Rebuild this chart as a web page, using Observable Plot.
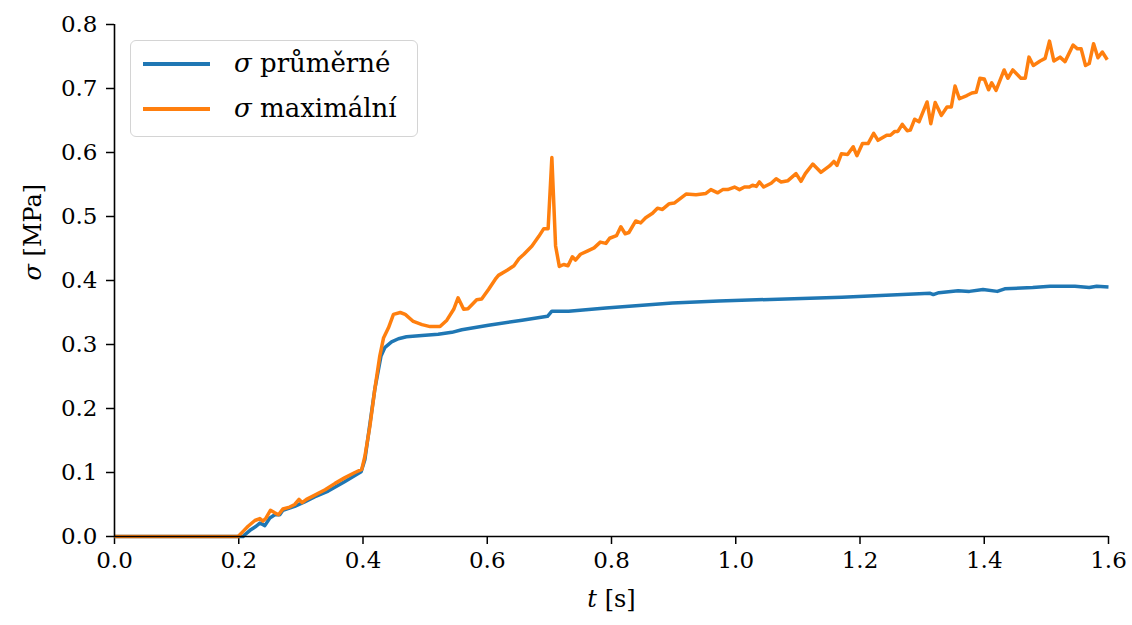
<!DOCTYPE html>
<html>
<head>
<meta charset="utf-8">
<script src="https://cdn.jsdelivr.net/npm/d3@7"></script>
<script src="https://cdn.jsdelivr.net/npm/@observablehq/plot@0.6"></script>
<style>
  html, body { margin: 0; padding: 0; background: #fff; }
  #wrap { position: relative; width: 1132px; height: 625px; }
  #legend {
    position: absolute; left: 130px; top: 40px; width: 286px; height: 95px;
    border: 1.5px solid #d4d4d4; border-radius: 6px; background: rgba(255,255,255,0.85);
    font-family: "DejaVu Serif", serif; font-size: 26px; color: #000;
  }
  .lrow { position: absolute; left: 0; height: 0; }
  .lline { position: absolute; left: 12px; width: 67px; height: 3.4px; top: -1.7px; }
  .ltext { position: absolute; left: 103px; top: -18px; white-space: nowrap; line-height: 34px; }
</style>
</head>
<body>
<div id="wrap"></div>
<script>
// Series names and colours
const seriesNames = ["σ průměrné", "σ maximální"];
const seriesColors = ["#1f77b4", "#ff7f0e"];

// σ průměrné (average stress), t [s] and σ [MPa]
const avgT = [0, 0.207, 0.210, 0.220, 0.228, 0.234, 0.242, 0.250, 0.258, 0.266, 0.271, 0.290, 0.306, 0.322, 0.344, 0.371, 0.397, 0.403, 0.419, 0.429, 0.435, 0.446, 0.457, 0.470, 0.495, 0.521, 0.543, 0.559, 0.602, 0.656, 0.697, 0.704, 0.731, 0.791, 0.898, 0.973, 1.171, 1.313, 1.318, 1.327, 1.358, 1.376, 1.398, 1.421, 1.433, 1.478, 1.506, 1.546, 1.569, 1.581, 1.600];
const avgV = [0, 0, 0.003, 0.011, 0.016, 0.021, 0.017, 0.029, 0.034, 0.034, 0.041, 0.047, 0.054, 0.062, 0.071, 0.086, 0.101, 0.120, 0.230, 0.282, 0.295, 0.304, 0.309, 0.312, 0.314, 0.316, 0.319, 0.323, 0.330, 0.338, 0.344, 0.352, 0.352, 0.357, 0.365, 0.368, 0.374, 0.380, 0.378, 0.381, 0.384, 0.383, 0.386, 0.383, 0.387, 0.389, 0.391, 0.391, 0.389, 0.391, 0.390];

// σ maximální (maximum stress)
const maxT = [0, 0.199, 0.207, 0.215, 0.226, 0.234, 0.239, 0.244, 0.251, 0.258, 0.264, 0.271, 0.282, 0.290, 0.297, 0.302, 0.309, 0.317, 0.339, 0.355, 0.371, 0.387, 0.398, 0.403, 0.411, 0.419, 0.427, 0.433, 0.441, 0.449, 0.460, 0.468, 0.481, 0.495, 0.508, 0.524, 0.535, 0.546, 0.553, 0.562, 0.569, 0.583, 0.591, 0.602, 0.613, 0.618, 0.632, 0.643, 0.651, 0.659, 0.672, 0.683, 0.691, 0.698, 0.704, 0.710, 0.716, 0.723, 0.730, 0.737, 0.742, 0.750, 0.761, 0.772, 0.782, 0.791, 0.797, 0.808, 0.815, 0.822, 0.828, 0.839, 0.847, 0.855, 0.866, 0.874, 0.882, 0.893, 0.901, 0.920, 0.936, 0.952, 0.960, 0.971, 0.979, 0.987, 0.998, 1.006, 1.014, 1.022, 1.027, 1.033, 1.038, 1.045, 1.057, 1.065, 1.073, 1.084, 1.097, 1.105, 1.112, 1.124, 1.137, 1.151, 1.158, 1.163, 1.170, 1.180, 1.189, 1.195, 1.204, 1.213, 1.222, 1.229, 1.243, 1.249, 1.256, 1.261, 1.268, 1.276, 1.281, 1.288, 1.295, 1.308, 1.314, 1.321, 1.331, 1.340, 1.347, 1.353, 1.360, 1.372, 1.380, 1.387, 1.393, 1.400, 1.407, 1.412, 1.419, 1.432, 1.438, 1.446, 1.459, 1.466, 1.472, 1.479, 1.490, 1.498, 1.505, 1.512, 1.522, 1.530, 1.543, 1.550, 1.556, 1.563, 1.569, 1.576, 1.583, 1.590, 1.598];
const maxV = [0, 0, 0.008, 0.016, 0.025, 0.028, 0.024, 0.029, 0.041, 0.037, 0.034, 0.043, 0.046, 0.050, 0.058, 0.053, 0.058, 0.062, 0.073, 0.083, 0.092, 0.100, 0.105, 0.125, 0.172, 0.230, 0.282, 0.310, 0.326, 0.347, 0.350, 0.347, 0.336, 0.331, 0.328, 0.328, 0.338, 0.355, 0.373, 0.355, 0.356, 0.370, 0.371, 0.386, 0.402, 0.408, 0.416, 0.423, 0.434, 0.441, 0.454, 0.469, 0.481, 0.481, 0.592, 0.454, 0.422, 0.425, 0.423, 0.437, 0.432, 0.441, 0.446, 0.451, 0.460, 0.458, 0.466, 0.470, 0.484, 0.473, 0.475, 0.493, 0.490, 0.498, 0.505, 0.513, 0.511, 0.520, 0.521, 0.535, 0.534, 0.536, 0.542, 0.537, 0.542, 0.542, 0.546, 0.542, 0.546, 0.546, 0.549, 0.547, 0.554, 0.546, 0.552, 0.559, 0.554, 0.556, 0.567, 0.555, 0.567, 0.582, 0.569, 0.579, 0.586, 0.580, 0.598, 0.597, 0.609, 0.595, 0.614, 0.614, 0.630, 0.619, 0.627, 0.627, 0.633, 0.633, 0.644, 0.634, 0.635, 0.652, 0.648, 0.679, 0.645, 0.678, 0.658, 0.671, 0.671, 0.704, 0.684, 0.689, 0.693, 0.694, 0.716, 0.715, 0.698, 0.709, 0.697, 0.729, 0.716, 0.729, 0.716, 0.716, 0.749, 0.736, 0.743, 0.747, 0.774, 0.743, 0.749, 0.742, 0.768, 0.762, 0.762, 0.736, 0.739, 0.770, 0.748, 0.757, 0.745];

// Axis ticks and labels
const xTicks = [0, 0.2, 0.4, 0.6, 0.8, 1.0, 1.2, 1.4, 1.6];
const yTicks = [0, 0.1, 0.2, 0.3, 0.4, 0.5, 0.6, 0.7, 0.8];
const xLabel = "t [s]";
const yLabel = "σ [MPa]";

const avgData = avgT.map((t, i) => ({t, v: avgV[i]}));
const maxData = maxT.map((t, i) => ({t, v: maxV[i]}));

const FONT = "DejaVu Serif, serif";

const plot = Plot.plot({
  width: 1132,
  height: 625,
  marginLeft: 114,
  marginRight: 24,
  marginTop: 24,
  marginBottom: 89,
  style: {fontFamily: FONT, fontSize: "23px", background: "#fff", color: "#000", overflow: "visible"},
  x: {domain: [0, 1.6]},
  y: {domain: [0, 0.8]},
  marks: [
    Plot.axisX({ticks: xTicks, tickFormat: d3.format(".1f"), tickSize: 8, tickPadding: 7, strokeWidth: 1.5, label: null, fontFamily: FONT}),
    Plot.axisY({ticks: yTicks, tickFormat: d3.format(".1f"), tickSize: 8, tickPadding: 9, strokeWidth: 1.5, label: null, fontFamily: FONT}),
    Plot.line(avgData, {x: "t", y: "v", stroke: seriesColors[0], strokeWidth: 3.5, strokeLinejoin: "round", strokeLinecap: "butt"}),
    Plot.line(maxData, {x: "t", y: "v", stroke: seriesColors[1], strokeWidth: 3.5, strokeLinejoin: "round", strokeLinecap: "butt"}),
    Plot.ruleX([0], {stroke: "#000", strokeWidth: 1.6}),
    Plot.ruleY([0], {stroke: "#000", strokeWidth: 1.6}),
    Plot.text([yLabel], {frameAnchor: "left", dx: -81, rotate: -90, text: d => d, fontSize: 24, fontFamily: FONT}),
    Plot.text([xLabel], {frameAnchor: "bottom", dy: 70, text: d => d, fontSize: 24, fontFamily: FONT})
  ]
});

// Make σ and t italic (math variables)
d3.select(plot).selectAll("text").each(function() {
  const s = this.textContent;
  if (s === yLabel || s === xLabel) {
    const first = s[0], rest = s.slice(1);
    this.textContent = "";
    d3.select(this).append("tspan").attr("font-style", "italic").text(first);
    d3.select(this).append("tspan").text(rest);
  }
});

const wrap = document.getElementById("wrap");
wrap.appendChild(plot);

// Legend
const legend = document.createElement("div");
legend.id = "legend";
seriesNames.forEach((name, i) => {
  const row = document.createElement("div");
  row.className = "lrow";
  row.style.top = (23 + i * 45) + "px";
  const ln = document.createElement("div");
  ln.className = "lline";
  ln.style.background = seriesColors[i];
  const tx = document.createElement("div");
  tx.className = "ltext";
  const sym = document.createElement("i");
  sym.textContent = name[0];
  tx.appendChild(sym);
  tx.appendChild(document.createTextNode(name.slice(1)));
  row.appendChild(ln);
  row.appendChild(tx);
  legend.appendChild(row);
});
wrap.appendChild(legend);
</script>
</body>
</html>
